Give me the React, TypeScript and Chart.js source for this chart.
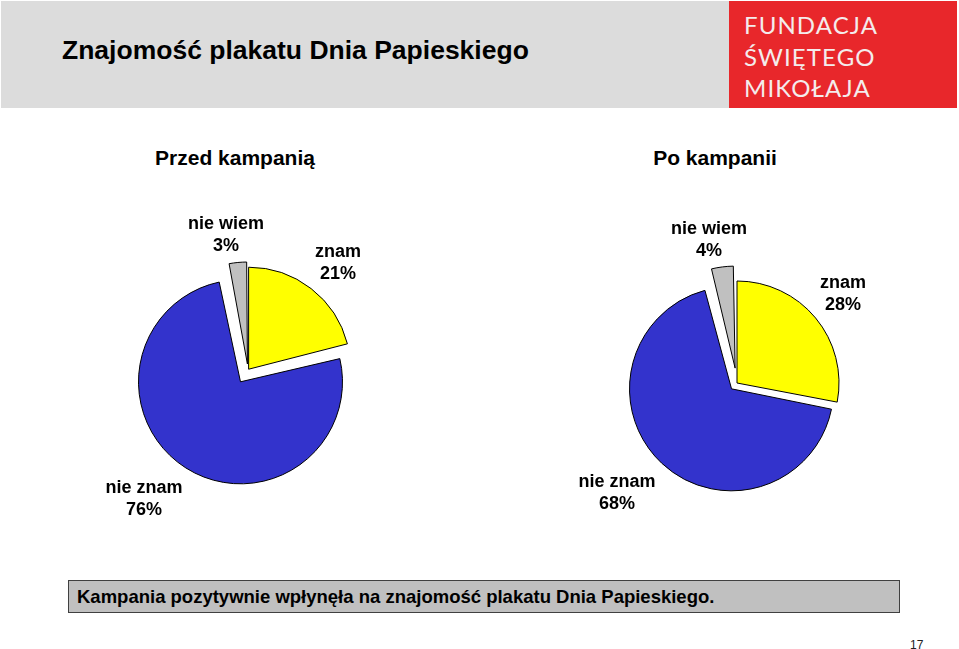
import React, { useEffect, useRef } from 'react';
import { Chart, registerables } from 'chart.js';

Chart.register(...registerables);

const categories = ['znam', 'nie znam', 'nie wiem'];
const beforeValues = [21, 76, 3];
const afterValues = [28, 68, 4];
const panelTitles = ['Przed kampanią', 'Po kampanii'];
const sliceColors = ['#FFFF00', '#3333CC', '#C0C0C0'];
const headerTitle = 'Znajomość plakatu Dnia Papieskiego';
const conclusion = 'Kampania pozytywnie wpłynęła na znajomość plakatu Dnia Papieskiego.';
const logoLines = ['FUNDACJA', 'ŚWIĘTEGO', 'MIKOŁAJA'];
const pageNumber = '17';

const FONT = '"Liberation Sans", Arial, Helvetica, sans-serif';
const PIE_RADIUS = 102;

// Chart.js enlarges exploded arcs (radius + offset/4 * fix); keep every slice at the same radius
const equalRadiusPlugin = {
  id: 'equalRadius',
  beforeDatasetsDraw(chart: any) {
    chart.data.datasets.forEach((_ds: any, di: number) => {
      const meta = chart.getDatasetMeta(di);
      meta.data.forEach((arc: any, i: number) => {
        const offs = (meta.controller.getDataset().offset || [])[i] || 0;
        const circ = arc.circumference || 0;
        const fix = 1 - Math.sin(Math.min(Math.PI, circ));
        arc.outerRadius = PIE_RADIUS - (offs / 4) * fix;
      });
    });
  },
};

type PieProps = {
  values: number[];
  offsets: number[];
  cx: number;
  cy: number;
};

const SIZE = 300;

function Pie({ values, offsets, cx, cy }: PieProps) {
  const ref = useRef<HTMLCanvasElement | null>(null);
  useEffect(() => {
    if (!ref.current) return;
    const chart = new Chart(ref.current, {
      type: 'pie',
      data: {
        labels: categories,
        datasets: [
          {
            data: values,
            backgroundColor: sliceColors,
            borderColor: '#000000',
            borderWidth: 1,
            offset: offsets,
            radius: PIE_RADIUS,
          } as any,
        ],
      },
      options: {
        responsive: false,
        animation: false,
        devicePixelRatio: 1,
        layout: { padding: 0 },
        plugins: {
          legend: { display: false },
          tooltip: { enabled: false },
          title: { display: false },
        },
        events: [],
      },
      plugins: [equalRadiusPlugin as any],
    });
    return () => chart.destroy();
  }, []);
  return (
    <canvas
      ref={ref}
      width={SIZE}
      height={SIZE}
      style={{ position: 'absolute', left: cx - SIZE / 2, top: cy - SIZE / 2, width: SIZE, height: SIZE }}
    />
  );
}

type LabelPos = { x: number; y: number };

function SliceLabel({ name, value, pos }: { name: string; value: number; pos: LabelPos }) {
  return (
    <div
      style={{
        position: 'absolute',
        left: pos.x,
        top: pos.y,
        transform: 'translateX(-50%)',
        textAlign: 'center',
        fontFamily: FONT,
        fontWeight: 'bold',
        fontSize: 18,
        lineHeight: '22px',
        color: '#000',
        whiteSpace: 'nowrap',
      }}
    >
      <div>{name}</div>
      <div>{value}%</div>
    </div>
  );
}

// label anchor positions (top-center of each two-line label), order = categories
const leftLabelPos: LabelPos[] = [
  { x: 338, y: 240 },
  { x: 144, y: 476 },
  { x: 226, y: 212 },
];
const rightLabelPos: LabelPos[] = [
  { x: 843, y: 271 },
  { x: 617, y: 470 },
  { x: 709, y: 217 },
];

export default function App() {
  return (
    <div
      style={{
        position: 'absolute',
        left: 0,
        top: 0,
        width: 959,
        height: 649,
        background: '#ffffff',
        overflow: 'hidden',
        fontFamily: FONT,
      }}
    >
      {/* header band */}
      <div style={{ position: 'absolute', left: 1, top: 1, width: 728, height: 107, background: '#DCDCDC' }} />
      <div
        style={{
          position: 'absolute',
          left: 62,
          top: 35,
          fontSize: 25,
          fontWeight: 'bold',
          color: '#000',
          whiteSpace: 'nowrap',
          lineHeight: '30px',
          transform: 'scaleX(1.06)',
          transformOrigin: 'left center',
        }}
      >
        {headerTitle}
      </div>
      {/* logo */}
      <div style={{ position: 'absolute', left: 729, top: 1, width: 228, height: 107, background: '#E8272B' }}>
        {logoLines.map((l, i) => (
          <div
            key={l}
            style={{
              position: 'absolute',
              left: 15,
              top: 9 + i * 31.5,
              fontFamily: 'Lato, "Open Sans", sans-serif',
              fontSize: 24,
              letterSpacing: 1.1,
              color: '#F4ECEC',
              lineHeight: '30px',
              whiteSpace: 'nowrap',
            }}
          >
            {l}
          </div>
        ))}
      </div>

      {/* panel titles */}
      <div style={{ position: 'absolute', left: 235, top: 146, transform: 'translateX(-50%)', fontSize: 21, fontWeight: 'bold', whiteSpace: 'nowrap', lineHeight: '24px' }}>
        {panelTitles[0]}
      </div>
      <div style={{ position: 'absolute', left: 715, top: 146, transform: 'translateX(-50%)', fontSize: 21, fontWeight: 'bold', whiteSpace: 'nowrap', lineHeight: '24px' }}>
        {panelTitles[1]}
      </div>

      <Pie values={beforeValues} offsets={[4, 56, 24]} cx={248} cy={370} />
      <Pie values={afterValues} offsets={[0, 32, 60]} cx={737} cy={383} />

      {categories.map((c, i) => (
        <SliceLabel key={'l' + c} name={c} value={beforeValues[i]} pos={leftLabelPos[i]} />
      ))}
      {categories.map((c, i) => (
        <SliceLabel key={'r' + c} name={c} value={afterValues[i]} pos={rightLabelPos[i]} />
      ))}

      {/* conclusion box */}
      <div
        style={{
          position: 'absolute',
          left: 68,
          top: 580,
          width: 830,
          height: 31,
          background: '#C0C0C0',
          border: '1px solid #404040',
        }}
      />
      <div
        style={{
          position: 'absolute',
          left: 77,
          top: 586,
          fontSize: 18.5,
          fontWeight: 'bold',
          whiteSpace: 'nowrap',
          lineHeight: '22px',
        }}
      >
        {conclusion}
      </div>

      <div style={{ position: 'absolute', left: 910, top: 638, fontSize: 12, color: '#222', lineHeight: '14px' }}>{pageNumber}</div>
    </div>
  );
}
